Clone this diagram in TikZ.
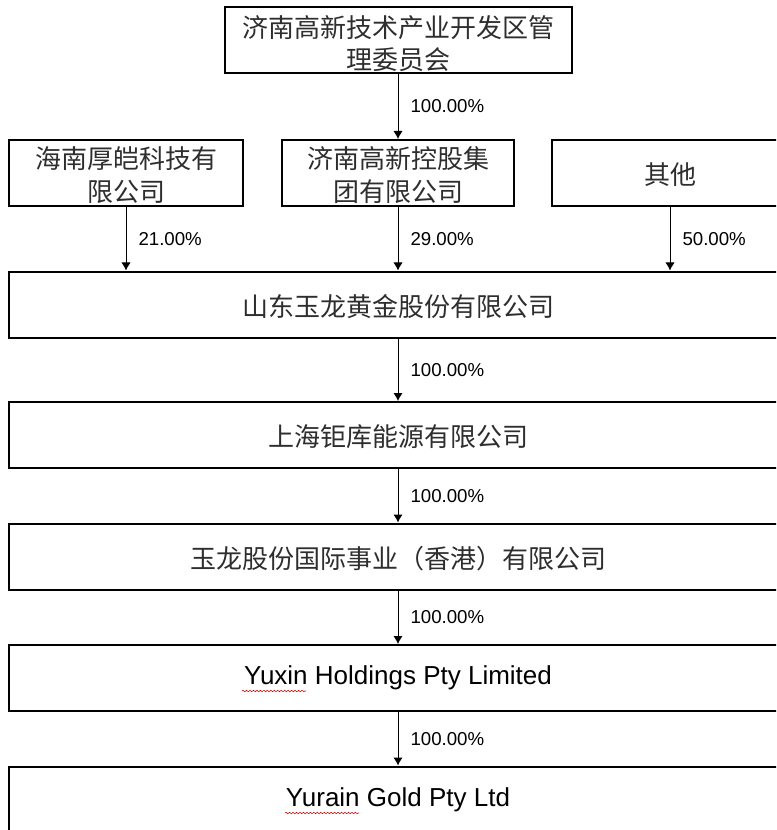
\documentclass[tikz,border=0pt]{standalone}
\usepackage{fontspec}
\setmainfont{Liberation Sans}
\newfontfamily\cjk{Noto Sans CJK SC}
\usetikzlibrary{arrows.meta, decorations.pathmorphing}
\tikzset{>=latex}
% lower the ink of a line, keep its box
\newcommand\sinkline[2][3pt]{\raisebox{-#1}[\height][\depth]{#2}}

\begin{document}
\begin{tikzpicture}[x=0.75pt, y=-0.75pt,
                    line join=miter,
                    entity/.style={draw, line width=1.5pt, inner sep=0pt, align=center,
                                   minimum height=66*0.75pt, text=black!82,
                                   font=\cjk\fontsize{19.5}{25}\selectfont},
                    latin/.style={text=black, font=\fontsize{19.5}{24}\selectfont},
                    link/.style={>={Latex[length=6pt,width=7pt]},->, line width=0.75pt},
                    pct/.style={anchor=west, inner sep=0pt, xshift=9pt,
                                font=\fontsize{14}{16}\selectfont},
                    spell/.style={red!80!black, line width=0.4pt, decorate,
                                  decoration={snake, amplitude=0.55pt, segment length=2.6pt}}]
  \def\px{0.75pt}
  \def\cx{398}
  \def\wide{778*\px}
  \def\narrow{234*\px}

  \useasboundingbox (0,0) rectangle (776,830);
  \clip (0,0) rectangle (776,830);

  % shareholders
  \node[entity, minimum width=347*\px] (gov) at (\cx,40)
    {\sinkline[3pt]{济南高新技术产业开发区管}\\\sinkline[2.5pt]{理委员会}};
  \node[entity, minimum width=\narrow] (hnhk) at (126,173)
    {\sinkline[1.5pt]{海南厚皑科技有}\\\sinkline[1.5pt]{限公司}};
  \node[entity, minimum width=232*\px] (jngx) at (\cx,173)
    {\sinkline[1.5pt]{济南高新控股集}\\\sinkline[1.5pt]{团有限公司}};
  \node[entity, minimum width=236*\px] (other) at (670,173) {\sinkline[1.5pt]{其他}};

  % holding chain
  \node[entity, minimum width=\wide] (sdyl) at (\cx,304.5) {\sinkline[1.5pt]{山东玉龙黄金股份有限公司}};
  \node[entity, minimum width=\wide] (shjk) at (\cx,435) {\sinkline[1.5pt]{上海钜库能源有限公司}};
  \node[entity, minimum width=\wide] (ylgj) at (\cx,556.5) {\sinkline[1.5pt]{玉龙股份国际事业（香港）有限公司}};
  \node[entity, latin, minimum width=\wide] (yuxin) at (\cx,678) {Yuxin Holdings Pty Limited};
  \node[entity, latin, minimum width=\wide] (yurain) at (\cx,799.5) {Yurain Gold Pty Ltd};

  % ownership arrows
  \draw[link] (gov) -- node[pct] {100.00\%} (jngx);
  \draw[link] (hnhk.south) -- node[pct] {21.00\%} (hnhk.south |- sdyl.north);
  \draw[link] (jngx.south) -- node[pct] {29.00\%} (jngx.south |- sdyl.north);
  \draw[link] (other.south) -- node[pct] {50.00\%} (other.south |- sdyl.north);
  \foreach \a/\b in {sdyl/shjk, shjk/ylgj, ylgj/yuxin, yuxin/yurain}
    \draw[link] (\a) -- node[pct] {100.00\%} (\b);

  % spell check marks
  \draw[spell] (242,691) -- (306,691);
  \draw[spell] (285,813) -- (359,813);
\end{tikzpicture}
\end{document}
